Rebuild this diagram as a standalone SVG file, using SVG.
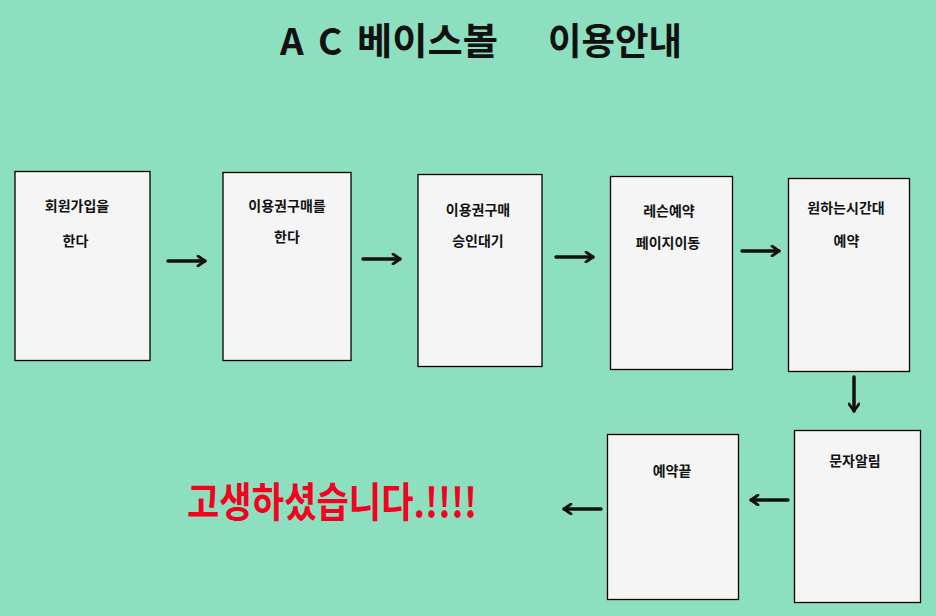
<svg xmlns="http://www.w3.org/2000/svg" width="936" height="616" viewBox="0 0 936 616">
<defs>
<style>
.box{fill:#f5f5f5;stroke:#000;stroke-width:1.3}
.t{font-family:"Noto Sans CJK KR","Noto Sans",sans-serif;font-weight:bold;font-size:14px;fill:#111;text-anchor:middle}
.title{font-family:"Noto Sans CJK KR","Noto Sans",sans-serif;font-weight:bold;font-size:37px;fill:#111}
.end{font-family:"Noto Sans CJK KR","Noto Sans",sans-serif;font-weight:bold;font-size:41px;fill:#f5001e}
.arr{stroke:#111;stroke-width:3.5;fill:none;stroke-linecap:round}
</style>
<marker id="ah" viewBox="0 0 12 12" refX="10" refY="6" markerWidth="12" markerHeight="12" markerUnits="userSpaceOnUse" orient="auto">
<path d="M3,1 L10,6 L3,11" stroke="#111" stroke-width="2.8" fill="none" stroke-linecap="round" stroke-linejoin="round"/>
</marker>
</defs>
<rect width="936" height="616" fill="#8ce0c0"/>
<g id="title">
<text class="title" x="280" y="55">A</text>
<text class="title" x="318" y="55">C</text>
<text class="title" x="357" y="55" textLength="141" lengthAdjust="spacingAndGlyphs">베이스볼</text>
<text class="title" x="548" y="55" textLength="134" lengthAdjust="spacingAndGlyphs">이용안내</text>
</g>

<g id="n1"><rect class="box" x="15" y="171.5" width="135" height="189"/>
<text class="t" x="77" y="211">회원가입을</text><text class="t" x="75.5" y="246">한다</text></g>
<g id="n2"><rect class="box" x="223" y="172.5" width="128" height="188"/>
<text class="t" x="287" y="211">이용권구매를</text><text class="t" x="287" y="242">한다</text></g>
<g id="n3"><rect class="box" x="418" y="174.5" width="124" height="192"/>
<text class="t" x="478" y="215">이용권구매</text><text class="t" x="478" y="246">승인대기</text></g>
<g id="n4"><rect class="box" x="610.5" y="176.5" width="122" height="193"/>
<text class="t" x="669" y="216">레슨예약</text><text class="t" x="668" y="248">페이지이동</text></g>
<g id="n5"><rect class="box" x="788.5" y="178.5" width="121" height="193"/>
<text class="t" x="846" y="213">원하는시간대</text><text class="t" x="846.5" y="246">예약</text></g>
<g id="n6"><rect class="box" x="794.5" y="430.5" width="126" height="172"/>
<text class="t" x="855" y="466">문자알림</text></g>
<g id="n7"><rect class="box" x="607.5" y="434.5" width="131" height="165"/>
<text class="t" x="672" y="476">예약끝</text></g>
<g id="end"><text class="end" x="187" y="517" textLength="290" lengthAdjust="spacingAndGlyphs">고생하셨습니다.!!!!</text></g>

<g id="connectors">
<path class="arr" d="M168,261 H205" marker-end="url(#ah)"/>
<path class="arr" d="M363,259 H400" marker-end="url(#ah)"/>
<path class="arr" d="M556,257 H593" marker-end="url(#ah)"/>
<path class="arr" d="M742,251 H779" marker-end="url(#ah)"/>
<path class="arr" d="M854,377 V411" marker-end="url(#ah)"/>
<path class="arr" d="M788,500 H751" marker-end="url(#ah)"/>
<path class="arr" d="M601,509 H564" marker-end="url(#ah)"/>
</g>
</svg>
